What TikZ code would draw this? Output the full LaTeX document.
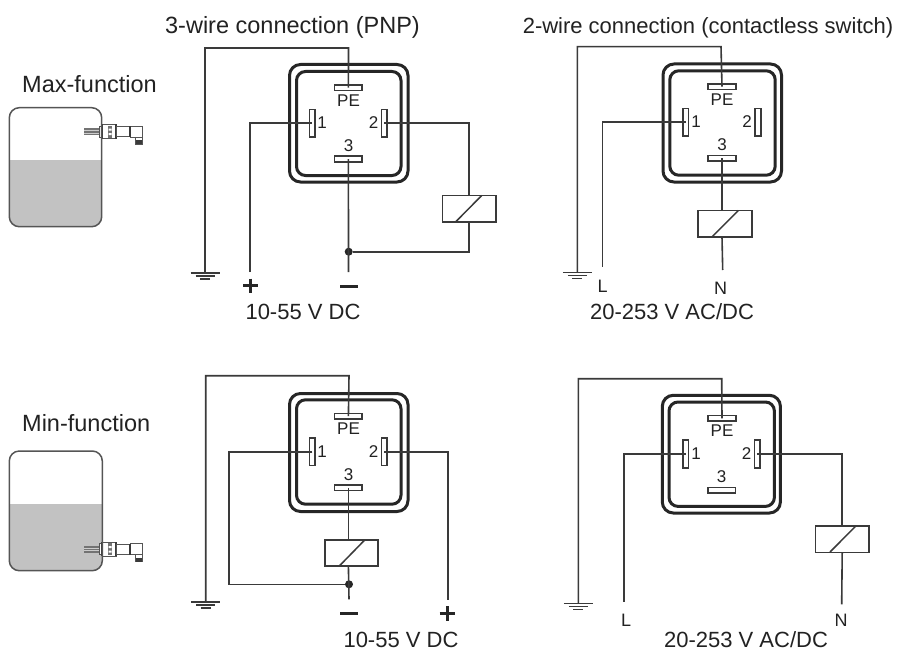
\documentclass[tikz,border=0pt]{standalone}
\usepackage{fontspec}
\setmainfont{Liberation Sans}
\definecolor{wirec}{HTML}{3A3A3A}
\definecolor{textc}{HTML}{222222}
\definecolor{tankc}{HTML}{555555}
\definecolor{levelc}{HTML}{C2C2C2}
\tikzset{
  wire/.style={draw=wirec,line width=1.6pt},
  pinbox/.style={draw=wirec,fill=white,line width=1.6pt,minimum width=27.5pt,minimum height=5.5pt,inner sep=0pt,outer sep=0pt},
  pinboxv/.style={draw=wirec,fill=white,line width=1.6pt,minimum width=5.5pt,minimum height=27.5pt,inner sep=0pt,outer sep=0pt},
  relaybox/.style={draw=wirec,fill=white,line width=1.7pt,minimum width=53.5pt,minimum height=26.3pt,inner sep=0pt,outer sep=0pt},
  dotnode/.style={circle,fill=black!85,inner sep=0pt,minimum size=8pt},
  lab/.style={font=\fontsize{22}{24}\selectfont,text=textc,inner sep=0pt},
  labbig/.style={font=\fontsize{23.5}{25}\selectfont,text=textc,inner sep=0pt},
  pinlab/.style={font=\fontsize{17}{19}\selectfont,text=textc,inner sep=0pt},
  endlab/.style={font=\fontsize{18}{20}\selectfont,text=textc,inner sep=0pt},
  shell/.style={draw=black!85,line width=3pt,rounded corners=11pt},
  shellin/.style={draw=black!85,line width=3pt,rounded corners=9pt},
  sign/.style={draw=black!85,line width=2.6pt},
  tank/.style={draw=tankc,line width=1.5pt,rounded corners=10pt},
  sens/.style={draw=tankc,line width=1pt,fill=white},
}
\newcommand{\groundsym}[2]{%
  \draw[wire] (#1-14.5,#2) -- (#1+14.5,#2);
  \draw[wire] (#1-9.5,#2+3) -- (#1+9.5,#2+3);
  \draw[wire] (#1-5,#2+6) -- (#1+5,#2+6);
}
\newcommand{\sensorsym}[2]{%
  \begin{scope}[shift={(#1,#2)}]
    \fill[black!55] (0,-3.5) rectangle (16,3.5);
    \fill[white!80!black] (0,-1.5) rectangle (16,-.5);
    \fill[white!80!black] (0,1) rectangle (16,2);
    \draw[sens] (15,-5.5) rectangle (18,5.5);
    \draw[sens] (18,-7) rectangle (32,7);
    \draw[wirec,line width=1.6pt] (18,-7) -- (18,7) (32,-7) -- (32,7);
    \fill[black!55] (24,-6) rectangle (28,6);
    \fill[white] (24.5,-3) rectangle (27.5,-1) (24.5,1.5) rectangle (27.5,3.5);
    \draw[sens] (32,-5) rectangle (46,5);
    \draw[sens] (46,-5.5) rectangle (58.7,5.5);
    \draw[wirec,line width=1.8pt] (46,-5.5) -- (46,5.5);
    \draw[sens] (51,5.5) rectangle (58.7,12.5);
    \fill[wirec] (51.5,8.5) rectangle (58.2,12.5);
  \end{scope}
}
\begin{document}
\begin{tikzpicture}[x=1pt,y=-1pt]
\useasboundingbox (0,0) rectangle (920,650);
\fill[white] (0,0) rectangle (920,650);

% titles
\node[labbig,anchor=base] (t1) at (292.5,34) {3-wire connection (PNP)};
\node[lab,anchor=base] (t2) at (708,34) {2-wire connection (contactless switch)};
\node[labbig,anchor=base west] (fmax) at (22,93) {Max-function};
\node[labbig,anchor=base west] (fmin) at (22,431) {Min-function};

% tanks
\fill[levelc,rounded corners=10pt] (9.3,160) -- (9.3,226.7) -- (101.7,226.7) -- (101.7,160) -- cycle;
\fill[levelc] (9.3,160) rectangle (101.7,170);
\sensorsym{84}{131.5}
\draw[tank] (9.3,107.7) rectangle (101.7,226.7);
\fill[levelc,rounded corners=10pt] (9.3,504.3) -- (9.3,570.7) -- (102.3,570.7) -- (102.3,504.3) -- cycle;
\fill[levelc] (9.3,504.3) rectangle (102.3,514);
\sensorsym{84}{549}
\draw[tank] (9.3,451) rectangle (102.3,570.7);

% ---- panel A
\draw[shell] (289.5,64.5) rectangle (408,182);
\draw[shellin] (296.5,71.5) rectangle (401,175.5);
\node[pinbox] (apPE) at (348.4,87.7) {};
\node[pinbox] (ap3) at (348.4,159) {};
\node[pinboxv] (ap1) at (312.3,123.2) {};
\node[pinboxv] (ap2) at (384.3,123.2) {};
\node[relaybox] (ar) at (469.2,208.7) {};
\node[dotnode] (ad) at (348.7,251.7) {};
\coordinate (ag) at (205,273);
\coordinate (apend) at (250,272);
\coordinate (amend) at (348.5,272);
\draw[wire] (ag) -- (205,48) -- (348.5,48) -- (apPE.center);
\groundsym{205}{273}
\draw[wire] (apend) |- (ap1.center);
\draw[wire] (ap3.center) -- (amend);
\draw[wire] (ap2.center) -| (ar.north);
\draw[wire] (ar.south) |- (ad);
\draw[wirec,line width=1.5pt] (456,221.5) -- (481.7,195.5);
\node[pinlab] (apl0) at (348.5,100.5) {PE};
\node[pinlab] (apl1) at (322,123) {1};
\node[pinlab] (apl2) at (373.5,123) {2};
\node[pinlab] (apl3) at (348.5,146) {3};
\draw[sign] (243,285.7) -- (257.5,285.7) (250.2,278.5) -- (250.2,293);
\draw[sign] (340,286.7) -- (357.5,286.7);
\node[lab,anchor=base] (av) at (303,319) {10-55 V DC};

% ---- panel B
\draw[shell] (663,64) rectangle (781.5,182);
\draw[shellin] (669.8,70.8) rectangle (775.2,175.2);
\node[pinbox] (bpPE) at (722,86.7) {};
\node[pinbox] (bp3) at (722,158.3) {};
\node[pinboxv] (bp1) at (685.8,122.3) {};
\node[pinboxv] (bp2) at (758,122.3) {};
\node[relaybox] (br) at (725,223.7) {};
\coordinate (bg) at (577.3,272.3);
\coordinate (bLend) at (602.3,266.7);
\coordinate (bNend) at (722.7,270);
\draw[wire] (bg) -- (577.3,46.7) -- (721,46.7) -- (bpPE.center);
\groundsym{577.3}{272.3}
\draw[wire] (bLend) |- (bp1.center);
\draw[wire] (bp3.center) -- (722,210.5);
\draw[wire] (722,237) -- (bNend);
\draw[wirec,line width=1.5pt] (712.3,236.5) -- (738.3,210.5);
\node[pinlab] (bpl0) at (722,99.5) {PE};
\node[pinlab] (bpl1) at (696,122) {1};
\node[pinlab] (bpl2) at (747,122) {2};
\node[pinlab] (bpl3) at (722,145) {3};
\node[endlab] (bL) at (602.7,286.7) {L};
\node[endlab] (bN) at (720.7,288.3) {N};
\node[lab,anchor=base] (bv) at (672,319) {20-253 V AC/DC};

% ---- panel C
\draw[shell] (289.5,393.5) rectangle (408,511.5);
\draw[shellin] (296.5,399.8) rectangle (401,504.2);
\node[pinbox] (cpPE) at (348.4,416.2) {};
\node[pinbox] (cp3) at (348.4,487.8) {};
\node[pinboxv] (cp1) at (312.3,451.8) {};
\node[pinboxv] (cp2) at (384.3,451.8) {};
\node[relaybox] (cr) at (351.5,552.9) {};
\node[dotnode] (cd) at (349,584.3) {};
\coordinate (cg) at (205.7,601.7);
\coordinate (cmend) at (349,599.3);
\coordinate (cpend) at (447.7,600);
\draw[wire] (cg) -- (205.7,375.7) -- (349,375.7) -- (cpPE.center);
\groundsym{205.7}{601.7}
\draw[wire] (cp1.center) -- (229,451.8) |- (cd);
\draw[wire] (cp3.center) -- (348.4,539.7);
\draw[wire] (348.4,566.2) -- (cmend);
\draw[wire] (cp2.center) -- (447.7,451.8) -- (cpend);
\draw[wirec,line width=1.5pt] (339.3,566) -- (365,539.7);
\node[pinlab] (cpl0) at (348.5,429) {PE};
\node[pinlab] (cpl1) at (322,451.5) {1};
\node[pinlab] (cpl2) at (373.5,451.5) {2};
\node[pinlab] (cpl3) at (348.5,474.5) {3};
\draw[sign] (340,613.3) -- (357.5,613.3);
\draw[sign] (439.7,613.3) -- (455,613.3) (447.3,606) -- (447.3,621);
\node[lab,anchor=base] (cv) at (401,647) {10-55 V DC};

% ---- panel D
\draw[shell] (662.3,395.3) rectangle (780.4,513);
\draw[shellin] (669,402) rectangle (774.4,506.4);
\node[pinbox] (dpPE) at (722,418.3) {};
\node[pinbox] (dp3) at (721.7,490.2) {};
\node[pinboxv] (dp1) at (685.7,454) {};
\node[pinboxv] (dp2) at (757.3,454) {};
\node[relaybox] (dr) at (842.2,539.2) {};
\coordinate (dg) at (578.3,603.3);
\coordinate (dLend) at (623.7,601.7);
\coordinate (dNend) at (841.7,604.3);
\draw[wire] (dg) -- (578.3,378.7) -- (721.7,378.7) -- (dpPE.center);
\groundsym{578.3}{603.3}
\draw[wire] (dLend) |- (dp1.center);
\draw[wire] (dp2.center) -| (dr.north);
\draw[wire] (dr.south) -- (dNend);
\draw[wirec,line width=1.5pt] (830,552) -- (855.5,526.3);
\node[pinlab] (dpl0) at (722,431) {PE};
\node[pinlab] (dpl1) at (696,454) {1};
\node[pinlab] (dpl2) at (746.5,454) {2};
\node[pinlab] (dpl3) at (721.5,477) {3};
\node[endlab] (dL) at (626,620.7) {L};
\node[endlab] (dN) at (841,620) {N};
\node[lab,anchor=base] (dv) at (746,647) {20-253 V AC/DC};
\end{tikzpicture}
\end{document}
